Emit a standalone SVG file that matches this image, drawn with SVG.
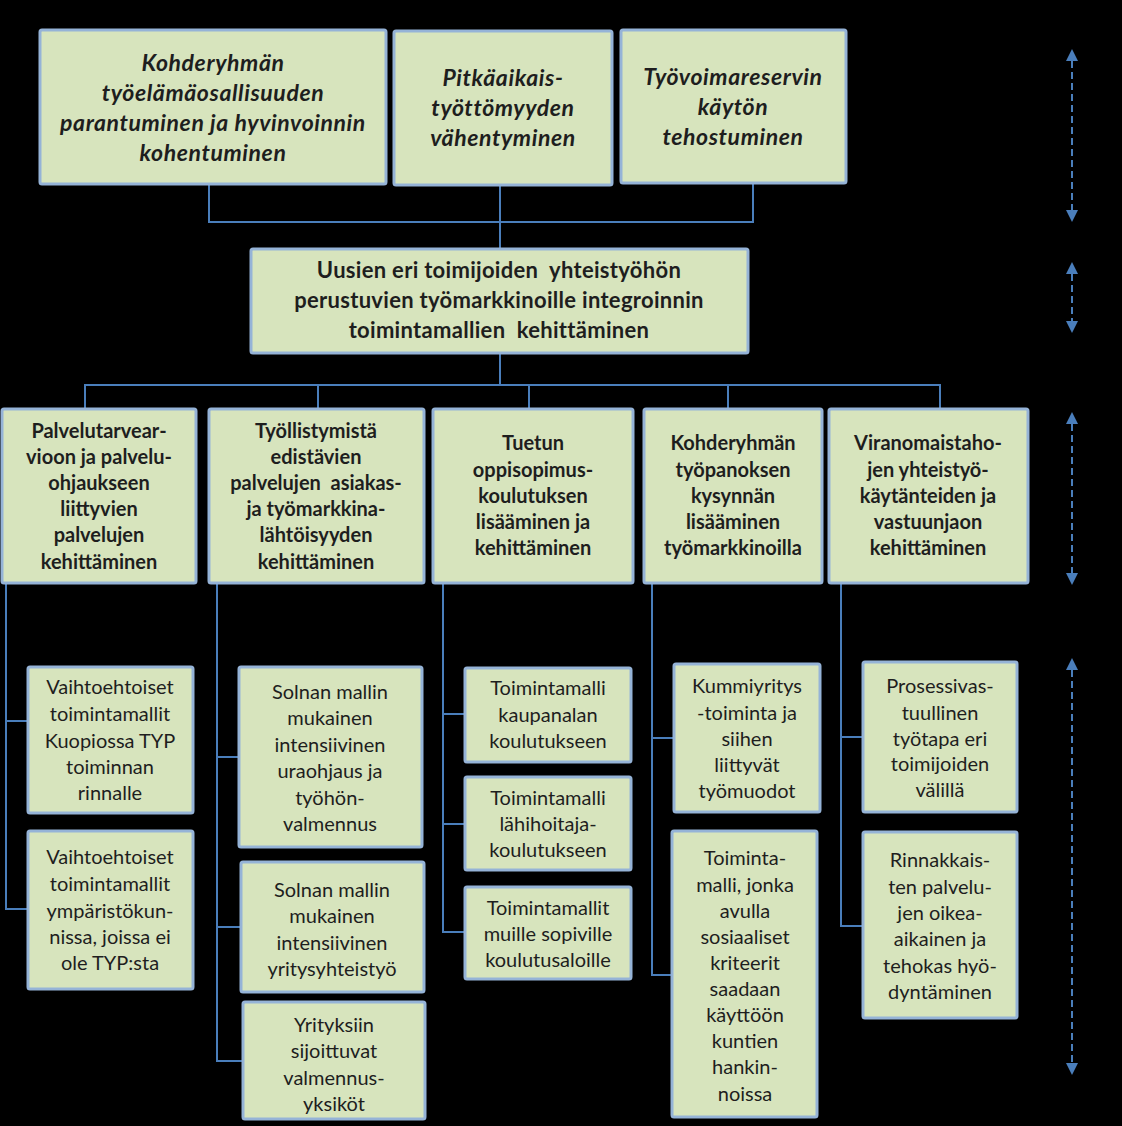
<svg xmlns="http://www.w3.org/2000/svg" width="1122" height="1126" viewBox="0 0 1122 1126">
<defs>
<style>
.bx{fill:#D7E4BD;stroke:#95B3D7;stroke-width:3}
.ln{fill:none;stroke:#4A7EBB;stroke-width:2}
.da{fill:none;stroke:#4A7EBB;stroke-width:2;stroke-dasharray:7,4}
.hd{fill:#4A7EBB}
text{font-family:Lato,"Liberation Sans",sans-serif;fill:#1e1e1e;text-anchor:middle}
.ti{font-size:23px;font-weight:bold;font-style:italic;letter-spacing:0.6px}
.tm{font-size:22px;font-weight:bold;letter-spacing:0.3px}
.t2{font-size:20px;font-weight:bold}
.t3{font-size:20px}
</style>
</defs>
<rect width="1122" height="1126" fill="#000"/>
<g id="connectors">
<path class="ln" d="M209,185 V222 H753 V183 M500,185 V248"/>
<path class="ln" d="M500,353 V385 M85,408 V385 H940 V408 M318,385 V408 M529,385 V408 M728,385 V408"/>
<path class="ln" d="M6,583 V909 H28 M6,721 H28"/>
<path class="ln" d="M217,583 V1061 H243 M217,757 H239 M217,927 H241"/>
<path class="ln" d="M443,583 V932 H465 M443,714 H465 M443,824 H465"/>
<path class="ln" d="M652,583 V975 H672 M652,738 H674"/>
<path class="ln" d="M841,583 V926 H863 M841,737 H863"/>
</g>
<g id="scale-arrows">
<line class="da" x1="1072" y1="61" x2="1072" y2="210"/>
<polygon class="hd" points="1072,49 1066,61 1078,61"/><polygon class="hd" points="1072,222 1066,210 1078,210"/>
<line class="da" x1="1072" y1="274" x2="1072" y2="321"/>
<polygon class="hd" points="1072,262 1066,274 1078,274"/><polygon class="hd" points="1072,333 1066,321 1078,321"/>
<line class="da" x1="1072" y1="424" x2="1072" y2="573"/>
<polygon class="hd" points="1072,412 1066,424 1078,424"/><polygon class="hd" points="1072,585 1066,573 1078,573"/>
<line class="da" x1="1072" y1="670" x2="1072" y2="1063"/>
<polygon class="hd" points="1072,658 1066,670 1078,670"/><polygon class="hd" points="1072,1075 1066,1063 1078,1063"/>
</g>
<g id="top1"><rect class="bx" x="40" y="30" width="346" height="154" rx="2"/>
<text class="ti"><tspan x="213" y="71">Kohderyhmän</tspan><tspan x="213" y="101">työelämäosallisuuden</tspan><tspan x="213" y="131">parantuminen ja hyvinvoinnin</tspan><tspan x="213" y="161">kohentuminen</tspan></text></g>
<g id="top2"><rect class="bx" x="394" y="31" width="218" height="154" rx="2"/>
<text class="ti"><tspan x="503" y="86">Pitkäaikais-</tspan><tspan x="503" y="116">työttömyyden</tspan><tspan x="503" y="146">vähentyminen</tspan></text></g>
<g id="top3"><rect class="bx" x="621" y="30" width="225" height="153" rx="2"/>
<text class="ti"><tspan x="733" y="85">Työvoimareservin</tspan><tspan x="733" y="115">käytön</tspan><tspan x="733" y="145">tehostuminen</tspan></text></g>
<g id="mid"><rect class="bx" x="251" y="249" width="497" height="104" rx="2"/>
<text class="tm" xml:space="preserve"><tspan x="499" y="278">Uusien eri toimijoiden  yhteistyöhön</tspan><tspan x="499" y="308">perustuvien työmarkkinoille integroinnin</tspan><tspan x="499" y="338">toimintamallien  kehittäminen</tspan></text></g>
<g id="a"><rect class="bx" x="2" y="409" width="194" height="174" rx="2"/>
<text class="t2"><tspan x="99" y="438">Palvelutarvear-</tspan><tspan x="99" y="464">vioon ja palvelu-</tspan><tspan x="99" y="490">ohjaukseen</tspan><tspan x="99" y="516">liittyvien</tspan><tspan x="99" y="542">palvelujen</tspan><tspan x="99" y="569">kehittäminen</tspan></text></g>
<g id="b"><rect class="bx" x="209" y="409" width="215" height="174" rx="2"/>
<text class="t2" xml:space="preserve"><tspan x="316" y="438">Työllistymistä</tspan><tspan x="316" y="464">edistävien</tspan><tspan x="316" y="490">palvelujen  asiakas-</tspan><tspan x="316" y="516">ja työmarkkina-</tspan><tspan x="316" y="542">lähtöisyyden</tspan><tspan x="316" y="569">kehittäminen</tspan></text></g>
<g id="c"><rect class="bx" x="433" y="409" width="200" height="174" rx="2"/>
<text class="t2"><tspan x="533" y="450">Tuetun</tspan><tspan x="533" y="477">oppisopimus-</tspan><tspan x="533" y="503">koulutuksen</tspan><tspan x="533" y="529">lisääminen ja</tspan><tspan x="533" y="555">kehittäminen</tspan></text></g>
<g id="d"><rect class="bx" x="644" y="409" width="178" height="174" rx="2"/>
<text class="t2"><tspan x="733" y="450">Kohderyhmän</tspan><tspan x="733" y="477">työpanoksen</tspan><tspan x="733" y="503">kysynnän</tspan><tspan x="733" y="529">lisääminen</tspan><tspan x="733" y="555">työmarkkinoilla</tspan></text></g>
<g id="e"><rect class="bx" x="829" y="409" width="199" height="174" rx="2"/>
<text class="t2"><tspan x="928" y="450">Viranomaistaho-</tspan><tspan x="928" y="477">jen yhteistyö-</tspan><tspan x="928" y="503">käytänteiden ja</tspan><tspan x="928" y="529">vastuunjaon</tspan><tspan x="928" y="555">kehittäminen</tspan></text></g>
<g id="a1"><rect class="bx" x="28" y="667" width="165" height="146" rx="2"/>
<text class="t3"><tspan x="110" y="694">Vaihtoehtoiset</tspan><tspan x="110" y="721">toimintamallit</tspan><tspan x="110" y="748">Kuopiossa TYP</tspan><tspan x="110" y="774">toiminnan</tspan><tspan x="110" y="800">rinnalle</tspan></text></g>
<g id="a2"><rect class="bx" x="28" y="831" width="165" height="158" rx="2"/>
<text class="t3"><tspan x="110" y="864">Vaihtoehtoiset</tspan><tspan x="110" y="891">toimintamallit</tspan><tspan x="110" y="918">ympäristökun-</tspan><tspan x="110" y="944">nissa, joissa ei</tspan><tspan x="110" y="970">ole TYP:sta</tspan></text></g>
<g id="b1"><rect class="bx" x="239" y="667" width="183" height="180" rx="2"/>
<text class="t3"><tspan x="330" y="699">Solnan mallin</tspan><tspan x="330" y="725">mukainen</tspan><tspan x="330" y="752">intensiivinen</tspan><tspan x="330" y="778">uraohjaus ja</tspan><tspan x="330" y="805">työhön-</tspan><tspan x="330" y="831">valmennus</tspan></text></g>
<g id="b2"><rect class="bx" x="241" y="862" width="183" height="130" rx="2"/>
<text class="t3"><tspan x="332" y="897">Solnan mallin</tspan><tspan x="332" y="923">mukainen</tspan><tspan x="332" y="950">intensiivinen</tspan><tspan x="332" y="976">yritysyhteistyö</tspan></text></g>
<g id="b3"><rect class="bx" x="243" y="1002" width="182" height="117" rx="2"/>
<text class="t3"><tspan x="334" y="1032">Yrityksiin</tspan><tspan x="334" y="1058">sijoittuvat</tspan><tspan x="334" y="1085">valmennus-</tspan><tspan x="334" y="1111">yksiköt</tspan></text></g>
<g id="c1"><rect class="bx" x="465" y="668" width="166" height="94" rx="2"/>
<text class="t3"><tspan x="548" y="695">Toimintamalli</tspan><tspan x="548" y="722">kaupanalan</tspan><tspan x="548" y="748">koulutukseen</tspan></text></g>
<g id="c2"><rect class="bx" x="465" y="777" width="166" height="93" rx="2"/>
<text class="t3"><tspan x="548" y="805">Toimintamalli</tspan><tspan x="548" y="831">lähihoitaja-</tspan><tspan x="548" y="857">koulutukseen</tspan></text></g>
<g id="c3"><rect class="bx" x="465" y="887" width="166" height="92" rx="2"/>
<text class="t3"><tspan x="548" y="915">Toimintamallit</tspan><tspan x="548" y="941">muille sopiville</tspan><tspan x="548" y="967">koulutusaloille</tspan></text></g>
<g id="d1"><rect class="bx" x="674" y="664" width="146" height="148" rx="2"/>
<text class="t3"><tspan x="747" y="693">Kummiyritys</tspan><tspan x="747" y="720">-toiminta ja</tspan><tspan x="747" y="746">siihen</tspan><tspan x="747" y="772">liittyvät</tspan><tspan x="747" y="798">työmuodot</tspan></text></g>
<g id="d2"><rect class="bx" x="672" y="831" width="145" height="286" rx="2"/>
<text class="t3"><tspan x="745" y="865">Toiminta-</tspan><tspan x="745" y="892">malli, jonka</tspan><tspan x="745" y="918">avulla</tspan><tspan x="745" y="944">sosiaaliset</tspan><tspan x="745" y="970">kriteerit</tspan><tspan x="745" y="996">saadaan</tspan><tspan x="745" y="1022">käyttöön</tspan><tspan x="745" y="1048">kuntien</tspan><tspan x="745" y="1074">hankin-</tspan><tspan x="745" y="1101">noissa</tspan></text></g>
<g id="e1"><rect class="bx" x="863" y="662" width="154" height="150" rx="2"/>
<text class="t3"><tspan x="940" y="693">Prosessivas-</tspan><tspan x="940" y="720">tuullinen</tspan><tspan x="940" y="746">työtapa eri</tspan><tspan x="940" y="771">toimijoiden</tspan><tspan x="940" y="797">välillä</tspan></text></g>
<g id="e2"><rect class="bx" x="863" y="832" width="154" height="186" rx="2"/>
<text class="t3"><tspan x="940" y="867">Rinnakkais-</tspan><tspan x="940" y="894">ten palvelu-</tspan><tspan x="940" y="920">jen oikea-</tspan><tspan x="940" y="946">aikainen ja</tspan><tspan x="940" y="973">tehokas hyö-</tspan><tspan x="940" y="999">dyntäminen</tspan></text></g>
</svg>
